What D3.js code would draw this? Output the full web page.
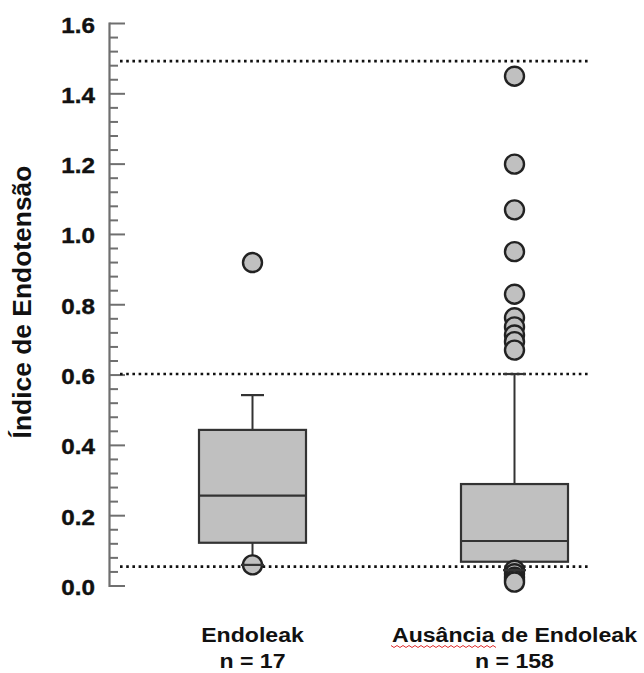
<!DOCTYPE html>
<html>
<head>
<meta charset="utf-8">
<script src="https://cdn.jsdelivr.net/npm/d3@7"></script>
<style>
  body { margin: 0; background: #fff; }
  text { font-family: "Liberation Sans", Arial, sans-serif; font-weight: bold; fill: #111; }
</style>
</head>
<body>
<div id="chart"></div>
<script>
var w = 644, h = 673;

//Chart values
var groups = ["Endoleak", "Ausância de Endoleak"];
var counts = ["n = 17", "n = 158"];
var whiskerLow = [0.06, 0.045];
var q1 = [0.123, 0.069];
var median = [0.257, 0.128];
var q3 = [0.444, 0.29];
var whiskerHigh = [0.543, 0.603];
var outliers = [
    [0.92, 0.06],
    [1.45, 1.20, 1.07, 0.951, 0.83, 0.763, 0.737, 0.714, 0.695, 0.671, 0.045, 0.035, 0.025, 0.017, 0.011]
];
var refLines = [1.493, 0.603, 0.055];
var yTicks = [0, 0.2, 0.4, 0.6, 0.8, 1.0, 1.2, 1.4, 1.6];

var svg = d3.select("#chart")
            .append("svg")
            .attr("width", w)
            .attr("height", h);

//Scales
var yScale = d3.scaleLinear().domain([0, 1.6]).range([586, 23.5]);
var xScale = d3.scalePoint().domain(groups).range([252.5, 514.5]);
var boxW = 107, capW = 23, axisX = 109.5;

//Axis line + ticks
svg.append("line")
   .attr("x1", axisX).attr("x2", axisX)
   .attr("y1", yScale(1.6) - 1).attr("y2", yScale(0) + 1)
   .style("stroke", "#6f6f6f").style("stroke-width", 2.2);

var minor = d3.range(0, 41).map(function(i) { return i * 0.04; });
svg.append("g").selectAll("line")
   .data(minor)
   .enter()
   .append("line")
   .attr("x1", axisX)
   .attr("x2", function(d, i) { return i % 5 == 0 ? 125 : 118; })
   .attr("y1", function(d) { return yScale(d); })
   .attr("y2", function(d) { return yScale(d); })
   .style("stroke", "#6f6f6f").style("stroke-width", 2);

svg.append("g").selectAll("text")
   .data(yTicks)
   .enter()
   .append("text")
   .attr("transform", function(d) { return "translate(95," + (yScale(d) + 9) + ") scale(1.1,1)"; })
   .attr("text-anchor", "end")
   .style("font-size", "22px")
   .style("stroke", "#111").style("stroke-width", 0.4)
   .text(function(d) { return d.toFixed(1); });

//Y axis title
svg.append("text")
   .attr("transform", "translate(31,302) rotate(-90) scale(1.1,1.05)")
   .attr("text-anchor", "middle")
   .style("font-size", "24px")
   .text("Índice de Endotensão");

//Dotted reference lines
svg.append("g").selectAll("line")
   .data(refLines)
   .enter()
   .append("line")
   .attr("x1", 120).attr("x2", 588)
   .attr("y1", function(d) { return yScale(d); })
   .attr("y2", function(d) { return yScale(d); })
   .style("stroke", "#111")
   .style("stroke-width", 2.6)
   .style("stroke-dasharray", "2.6,3.6");

//Boxes
var boxes = svg.append("g").selectAll("g")
   .data(groups)
   .enter()
   .append("g");

boxes.append("line")
     .attr("x1", function(d) { return xScale(d); })
     .attr("x2", function(d) { return xScale(d); })
     .attr("y1", function(d, i) { return yScale(whiskerHigh[i]); })
     .attr("y2", function(d, i) { return yScale(whiskerLow[i]); })
     .style("stroke", "#333").style("stroke-width", 2);

boxes.append("rect")
     .attr("x", function(d) { return xScale(d) - boxW / 2; })
     .attr("y", function(d, i) { return yScale(q3[i]); })
     .attr("width", boxW)
     .attr("height", function(d, i) { return yScale(q1[i]) - yScale(q3[i]); })
     .style("fill", "#c0c0c0").style("stroke", "#333").style("stroke-width", 2.2);

boxes.append("line")
     .attr("x1", function(d) { return xScale(d) - boxW / 2; })
     .attr("x2", function(d) { return xScale(d) + boxW / 2; })
     .attr("y1", function(d, i) { return yScale(median[i]); })
     .attr("y2", function(d, i) { return yScale(median[i]); })
     .style("stroke", "#333").style("stroke-width", 2.2);

//Outlier circles
boxes.each(function(g, i) {
    d3.select(this).selectAll("circle")
      .data(outliers[i])
      .enter()
      .append("circle")
      .attr("cx", xScale(g))
      .attr("cy", function(d) { return yScale(d); })
      .attr("r", 9.5)
      .style("fill", "#c0c0c0").style("stroke", "#222").style("stroke-width", 2.4);
});

//Whisker caps (drawn over circles)
[whiskerHigh, whiskerLow].forEach(function(arr) {
    boxes.append("line")
         .attr("x1", function(d) { return xScale(d) - capW / 2; })
         .attr("x2", function(d) { return xScale(d) + capW / 2; })
         .attr("y1", function(d, i) { return yScale(arr[i]); })
         .attr("y2", function(d, i) { return yScale(arr[i]); })
         .style("stroke", "#333").style("stroke-width", 2.2);
});

//Category labels
boxes.append("text")
     .attr("transform", function(d) { return "translate(" + xScale(d) + ",642) scale(1.1,1)"; })
     .attr("text-anchor", "middle")
     .style("font-size", "21px")
     .text(function(d) { return d; });
boxes.append("text")
     .attr("transform", function(d) { return "translate(" + xScale(d) + ",668) scale(1.1,1)"; })
     .attr("text-anchor", "middle")
     .style("font-size", "21px")
     .text(function(d, i) { return counts[i]; });

//Spell-check squiggle under "Ausância"
var sq = d3.range(0, 36).map(function(i) { return [391 + i * 3, 646 + (i % 2 ? 1.5 : -0.5)]; });
svg.append("path")
   .attr("d", d3.line()(sq))
   .style("fill", "none").style("stroke", "#e03030").style("stroke-width", 1);
</script>
</body>
</html>
